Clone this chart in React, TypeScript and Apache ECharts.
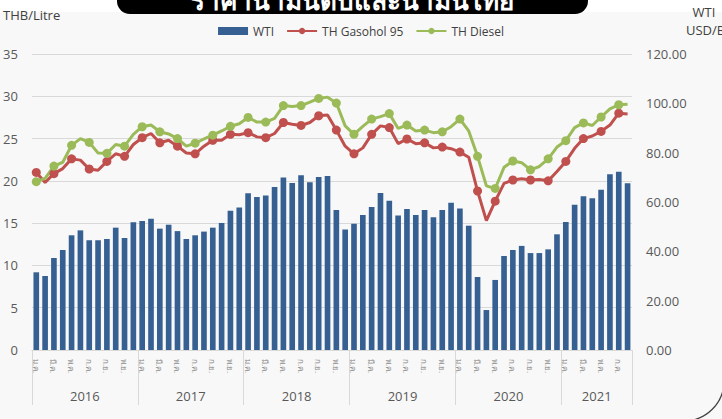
import React, { useEffect, useRef } from "react";
import * as echarts from "echarts";

const MONTHS_TH = ["ม.ค.", "ก.พ.", "มี.ค.", "เม.ย.", "พ.ค.", "มิ.ย.", "ก.ค.", "ส.ค.", "ก.ย.", "ต.ค.", "พ.ย.", "ธ.ค."];
const YEARS = ["2016", "2017", "2018", "2019", "2020", "2021"];
const MONTHS_PER_YEAR = [12, 12, 12, 12, 12, 8];

const categories: string[] = [];
YEARS.forEach((y, yi) => {
  for (let m = 0; m < MONTHS_PER_YEAR[yi]; m++) categories.push(MONTHS_TH[m]);
});

const wti = [
  31.5, 30.0, 37.3, 40.5, 46.5, 48.5, 44.5, 44.5, 45.0, 49.6, 45.4, 51.8,
  52.3, 53.2, 49.2, 50.8, 48.2, 45.0, 46.5, 48.0, 49.6, 51.5, 56.5, 57.8,
  63.5, 62.0, 62.6, 66.1, 69.9, 67.7, 70.8, 68.0, 70.1, 70.5, 56.8, 48.9,
  51.2, 54.7, 58.0, 63.6, 60.5, 54.5, 57.2, 54.7, 56.8, 53.8, 56.8, 59.7,
  57.4, 50.4, 29.6, 16.2, 28.4, 38.1, 40.5, 42.2, 39.3, 39.3, 40.8, 46.9,
  51.9, 58.9, 62.3, 61.5, 65.0, 71.2, 72.3, 67.6,
];

const gasohol95 = [
  21.0, 19.8, 20.85, 21.45, 22.6, 22.45, 21.4, 21.25, 22.3, 23.2, 22.9, 24.3,
  25.1, 25.6, 24.5, 24.8, 24.1, 23.3, 23.2, 24.1, 24.8, 24.8, 25.5, 25.45,
  25.7, 25.2, 25.1, 25.6, 26.9, 26.7, 26.55, 26.9, 27.7, 27.8, 26.0, 24.1,
  23.2, 23.9, 25.5, 26.5, 26.3, 24.4, 24.95, 24.4, 24.5, 23.9, 24.0, 23.8,
  23.4, 22.8, 18.8, 15.3, 17.6, 19.7, 20.1, 20.25, 20.1, 20.15, 20.0, 21.1,
  22.3, 23.85, 25.0, 25.3, 25.85, 26.6, 28.0, 27.9,
];

const diesel = [
  19.9, 20.3, 21.75, 22.2, 24.2, 25.0, 24.55, 23.3, 23.25, 24.3, 24.1, 25.5,
  26.4, 26.6, 25.8, 25.55, 25.0, 24.1, 24.45, 24.95, 25.4, 25.9, 26.45, 26.75,
  27.5, 26.95, 26.95, 27.4, 28.9, 28.8, 28.9, 29.3, 29.75, 29.9, 29.2, 26.5,
  25.5, 26.45, 27.3, 27.6, 27.95, 26.2, 26.6, 25.9, 26.0, 25.7, 25.8, 26.4,
  27.3, 25.9, 22.9, 19.4, 19.1, 21.6, 22.35, 22.15, 21.3, 21.7, 22.6, 24.0,
  24.75, 26.3, 26.85, 26.55, 27.55, 28.5, 29.0, 29.05,
];

// year boundaries and label positions (in month index units)
const yearStarts: number[] = [];
const yearMids: number[] = [];
{
  let acc = 0;
  MONTHS_PER_YEAR.forEach((n) => {
    yearStarts.push(acc);
    yearMids.push(acc + n / 2);
    acc += n;
  });
  yearStarts.push(acc);
}

const FONT = "'Open Sans', 'Noto Sans', 'DejaVu Sans', sans-serif";
const GRAY = "#595959";

export default function App() {
  const ref = useRef<HTMLDivElement>(null);
  useEffect(() => {
    document.body.style.margin = "0";
    if (!ref.current) return;
    const chart = echarts.init(ref.current, undefined, { renderer: "svg" });
    const total = categories.length;
    chart.setOption({
      animation: false,
      backgroundColor: "#f8f8f8",
      textStyle: { fontFamily: FONT },
      legend: {
        top: 20,
        left: "center",
        itemWidth: 30,
        itemHeight: 8,
        itemGap: 12,
        textStyle: { fontSize: 12, color: "#404040", fontFamily: FONT },
        data: [
          { name: "WTI", icon: "rect" },
          { name: "TH Gasohol 95" },
          { name: "TH Diesel" },
        ],
      },
      grid: { left: 26, right: 90, top: 54, bottom: 69, containLabel: false },
      xAxis: [
        {
          type: "category",
          data: categories,
          position: "bottom",
          boundaryGap: true,
          axisLine: { lineStyle: { color: "#d9d9d9", width: 1 } },
          axisTick: { show: false },
          axisLabel: {
            interval: 1,
            rotate: -90,
            fontSize: 8,
            color: "#8c8c8c",
            margin: 9,
          },
          splitLine: { show: false },
        },
        {
          type: "value",
          min: 0,
          max: total,
          position: "bottom",
          axisLine: { show: false },
          splitLine: { show: false },
          axisTick: {
            show: true,
            length: 55,
            customValues: yearStarts,
            lineStyle: { color: "#d9d9d9", width: 1 },
          },
          axisLabel: {
            show: true,
            customValues: yearMids,
            margin: 39,
            fontSize: 13,
            color: GRAY,
            formatter: (v: number) => {
              const i = yearMids.findIndex((m) => Math.abs(m - v) < 0.01);
              return i >= 0 ? YEARS[i] : "";
            },
          },
        },
      ],
      yAxis: [
        {
          type: "value",
          min: 0,
          max: 35,
          interval: 5,
          position: "left",
          axisLine: { show: false },
          axisTick: { show: false },
          axisLabel: { color: GRAY, fontSize: 13, margin: 14 },
          splitLine: { lineStyle: { color: "#d9d9d9", width: 1 } },
        },
        {
          type: "value",
          min: 0,
          max: 120,
          interval: 20,
          position: "right",
          axisLine: { show: false },
          axisTick: { show: false },
          axisLabel: {
            color: GRAY,
            fontSize: 13,
            margin: 14,
            formatter: (v: number) => v.toFixed(2),
          },
          splitLine: { show: false },
        },
      ],
      series: [
        {
          name: "WTI",
          type: "bar",
          xAxisIndex: 0,
          yAxisIndex: 1,
          data: wti,
          barCategoryGap: "36%",
          itemStyle: { color: "#376092" },
        },
        {
          name: "TH Gasohol 95",
          type: "line",
          xAxisIndex: 0,
          yAxisIndex: 0,
          data: gasohol95,
          symbol: "circle",
          symbolSize: 9,
          lineStyle: { color: "#c0504d", width: 3 },
          itemStyle: { color: "#c0504d" },
        },
        {
          name: "TH Diesel",
          type: "line",
          xAxisIndex: 0,
          yAxisIndex: 0,
          data: diesel,
          symbol: "circle",
          symbolSize: 9,
          lineStyle: { color: "#9bbb59", width: 3 },
          itemStyle: { color: "#9bbb59" },
        },
      ],
      graphic: [
        {
          type: "rect",
          shape: { x: 0, y: 0, width: 722, height: 12 },
          style: { fill: "#ffffff" },
          z: -1,
        },
        {
          type: "rect",
          shape: { x: -40, y: -100, width: 764, height: 521, r: 40 },
          style: { fill: "none", stroke: "#404040", lineWidth: 1.2 },
        },
        {
          type: "rect",
          shape: { x: 117, y: -30, width: 471, height: 44, r: 13 },
          style: { fill: "#000000" },
        },
        {
          type: "text",
          x: 352,
          y: 13,
          style: {
            text: "ราคาน้ำมันดิบและน้ำมันไทย",
            fill: "#ffffff",
            font: "bold 26px 'Noto Sans', sans-serif",
            align: "center",
            verticalAlign: "bottom",
          },
        },
        {
          type: "text",
          x: 3,
          y: 15,
          style: {
            text: "THB/Litre",
            fill: "#404040",
            font: `13px ${FONT}`,
            align: "left",
            verticalAlign: "middle",
          },
        },
        {
          type: "text",
          x: 704,
          y: 12,
          style: {
            text: "WTI",
            fill: "#404040",
            font: `13px ${FONT}`,
            align: "center",
            verticalAlign: "middle",
          },
        },
        {
          type: "text",
          x: 686,
          y: 30,
          style: {
            text: "USD/BBL",
            fill: "#404040",
            font: `13px ${FONT}`,
            align: "left",
            verticalAlign: "middle",
          },
        },
      ],
    });
    return () => chart.dispose();
  }, []);
  return (
    <div
      ref={ref}
      style={{ position: "absolute", left: 0, top: 0, width: 722, height: 419 }}
    />
  );
}
